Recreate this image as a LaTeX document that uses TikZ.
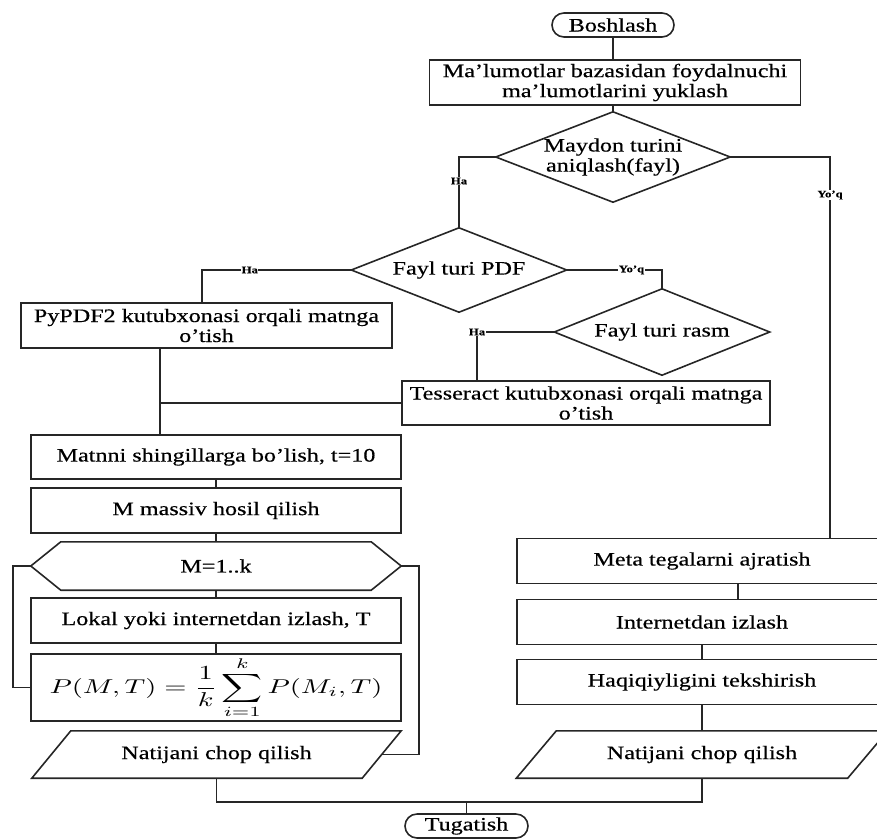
\documentclass[tikz,border=0pt]{standalone}
\usepackage{fontspec}
\setmainfont{Liberation Serif}[FakeStretch=1.27, FakeBold=0.5]
\usepackage{graphicx}

\begin{document}
\begin{tikzpicture}[x=1pt,y=-1pt,
  every node/.style={font=\fontsize{19}{20}\selectfont, inner sep=0pt},
  proc/.style={draw=black!85, line width=1.6pt, minimum width=370pt, minimum height=45pt, align=center},
  decision/.style={align=center},
  term/.style={draw=black!85, line width=1.6pt, rounded corners=12pt, minimum width=122pt, minimum height=24pt},
  flow/.style={draw=black!85, line width=1.6pt},
  lbl/.style={font=\fontsize{10}{12}\selectfont\bfseries, fill=white, inner sep=0.6pt},
]
\useasboundingbox (0,0) rectangle (877,839);
% the right column runs past the page edge
\clip (0,0) rectangle (877,839);

% --- top: start, load, field type ---
\node[term] (start) at (613,25) {Boshlash};
\node[proc, minimum width=371pt] (load) at (615,82.5) {Ma’lumotlar bazasidan foydalnuchi\\ma’lumotlarini yuklash};
\node[decision, minimum width=234pt, minimum height=90pt] (field) at (613,157) {Maydon turini\\aniqlash(fayl)};
\draw[flow] (field.west) -- (field.north) -- (field.east) -- (field.south) -- cycle;

% --- file type branch ---
\node[decision, minimum width=215pt, minimum height=84pt] (pdf) at (459,270) {Fayl turi PDF};
\draw[flow] (pdf.west) -- (pdf.north) -- (pdf.east) -- (pdf.south) -- cycle;
\node[decision, minimum width=215pt, minimum height=86pt] (img) at (662,332) {Fayl turi rasm};
\draw[flow] (img.west) -- (img.north) -- (img.east) -- (img.south) -- cycle;
\node[proc, minimum width=371pt] (pypdf) at (206.5,325.5) {PyPDF2 kutubxonasi orqali matnga\\o’tish};
\node[proc, minimum width=368pt, minimum height=44pt] (tess) at (586,403) {Tesseract kutubxonasi orqali matnga\\o’tish};
\coordinate (merge) at (160,403);

% --- left column: text processing ---
\node[proc, minimum height=44pt] (shingle) at (216,457) {Matnni shingillarga bo’lish, t=10};
\node[proc] (array) at (216,510.5) {M massiv hosil qilish};
\node[minimum width=370pt, minimum height=48pt] (loop) at (216,566) {M=1..k};
\draw[flow] (loop.west) -- ([xshift=30pt]loop.north west) -- ([xshift=-30pt]loop.north east)
  -- (loop.east) -- ([xshift=-30pt]loop.south east) -- ([xshift=30pt]loop.south west) -- cycle;
\node[proc] (search) at (216,620.5) {Lokal yoki internetdan izlash, T};
\node[proc, minimum height=67pt, font=\normalsize] (score) at (216,687.5)
  {\scalebox{2.85}[2.0]{$\displaystyle P(M,T)=\frac{1}{k}\sum_{i=1}^{k}P(M_i,T)$}};
\node[minimum width=369pt, minimum height=47pt] (outL) at (216.5,754.5) {Natijani chop qilish};
\draw[flow] (outL.south west) -- ([xshift=-39pt]outL.south east) -- (outL.north east)
  -- ([xshift=39pt]outL.north west) -- cycle;

% --- right column: meta tags ---
\node[proc] (meta) at (702,561) {Meta tegalarni ajratish};
\node[proc] (web) at (702,622) {Internetdan izlash};
\node[proc] (check) at (702,682) {Haqiqiyligini tekshirish};
\node[minimum width=371pt, minimum height=47pt] (outR) at (702,754.5) {Natijani chop qilish};
\draw[flow] (outR.south west) -- ([xshift=-40pt]outR.south east) -- (outR.north east)
  -- ([xshift=40pt]outR.north west) -- cycle;

% --- end ---
\node[term, minimum width=123pt] (end) at (466.5,826) {Tugatish};

% --- connectors ---
\draw[flow] (start.south) -- (start.south |- load.north);
\draw[flow] (field.north |- load.south) -- (field.north);
\draw[flow] (field.west) -| node[lbl, pos=0.67] {Ha} (pdf.north);
\draw[flow] (field.east) -| node[lbl, pos=0.55] {Yo’q} ([xshift=128pt]meta.north);
\draw[flow] (pdf.west) -| node[lbl, pos=0.34] {Ha} ([xshift=-4.5pt]pypdf.north);
\draw[flow] (pdf.east) -| node[lbl, pos=0.34] {Yo’q} (img.north);
\draw[flow] (img.west) -| node[lbl, pos=0.5] {Ha} ([xshift=-109pt]tess.north);
\draw[flow] ([xshift=-46.5pt]pypdf.south) -- ([xshift=-56pt]shingle.north);
\draw[flow] (tess.west) -- (merge);
\draw[flow] (shingle.south) -- (array.north);
\draw[flow] (array.south) -- (loop.north);
\draw[flow] (loop.south) -- (search.north);
\draw[flow] (search.south) -- (score.north);
\draw[flow] (loop.west) -- ++(-18,0) |- (score.west);
\draw[flow] (loop.east) -- ++(18,0) |- ([xshift=-19.5pt]outL.east);
\draw[flow] ([xshift=36pt]meta.south) -- ([xshift=36pt]web.north);
\draw[flow] (web.south) -- (check.north);
\draw[flow] (check.south) -- (outR.north);
\draw[flow] (outL.south) -- ++(0,24) -| (outR.south);
\draw[flow] (end.north) -- ++(0,-12);
\end{tikzpicture}
\end{document}
